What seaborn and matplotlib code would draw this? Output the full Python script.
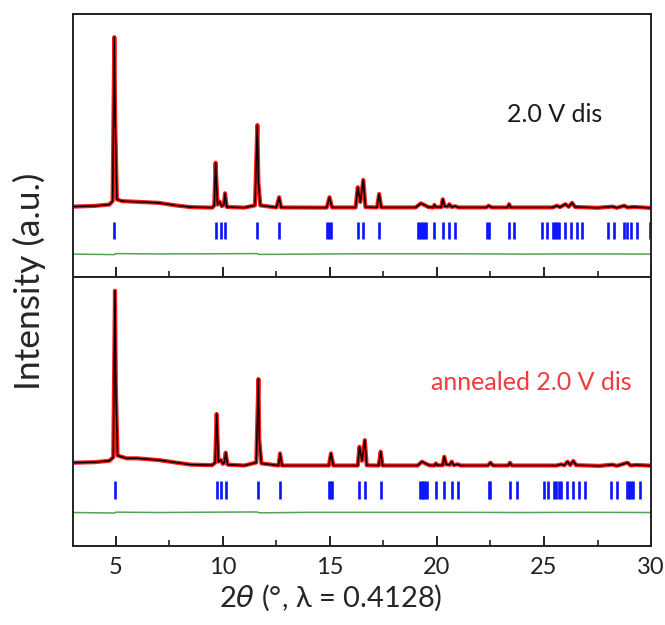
import matplotlib
matplotlib.use("Agg")
import matplotlib.pyplot as plt
import seaborn as sns
from matplotlib.ticker import MultipleLocator

# ---- data (2theta in degrees, intensity normalised to strongest peak = 100) ----
two_theta_top = [3.0, 4.0, 4.7, 4.85, 4.93, 4.97, 5.05, 5.3, 6.0, 7.0, 7.8, 8.5, 9.5,
                 9.6, 9.66, 9.75, 9.85, 9.95, 10.05, 10.1, 10.18, 11.0, 11.5, 11.61, 11.66,
                 11.75, 12.5, 12.63, 12.72, 14.85, 14.98, 15.1, 16.2, 16.3, 16.42, 16.56,
                 16.66, 17.2, 17.3, 17.4, 19.0, 19.25, 19.45, 19.6, 19.82, 19.88, 19.95,
                 20.2, 20.27, 20.36, 20.5, 20.58, 20.68, 20.86, 21.0, 22.3, 22.42, 22.55,
                 23.3, 23.37, 23.45, 25.4, 25.6, 25.75, 26.0, 26.15, 26.31, 26.45, 27.5,
                 28.2, 28.4, 28.75, 28.9, 29.2, 30.0]
intensity_top = [0.8, 1.2, 2.0, 4.0, 100.0, 50.0, 5.0, 4.0, 3.6, 3.0, 1.5, 0.5, 0.2,
                 1.5, 26.5, 2.0, 3.7, 1.0, 2.0, 8.6, 0.6, 0.2, 1.5, 48.5, 15.0,
                 1.5, 0.3, 6.3, 0.3, 0.2, 6.3, 0.3, 0.3, 12.1, 3.5, 16.4,
                 0.5, 0.3, 8.2, 0.3, 0.3, 2.7, 1.5, 0.5, 0.3, 1.8, 0.5,
                 0.5, 5.1, 1.0, 0.8, 2.2, 0.6, 1.0, 0.3, 0.3, 1.3, 0.3,
                 0.3, 2.2, 0.3, 0.3, 1.3, 0.5, 2.2, 0.7, 3.0, 0.6, 0.1,
                 0.8, 0.1, 1.3, 0.3, 0.6, 0.0]

two_theta_bot = [3.0, 4.0, 4.7, 4.88, 4.96, 5.0, 5.08, 5.5, 6.0, 7.0, 7.8, 8.5, 9.5,
                 9.64, 9.71, 9.79, 9.91, 10.0, 10.07, 10.13, 10.22, 11.0, 11.56, 11.66, 11.7,
                 11.8, 12.6, 12.67, 12.76, 14.95, 15.05, 15.16, 16.3, 16.38, 16.5, 16.63,
                 16.72, 17.28, 17.37, 17.46, 19.1, 19.3, 19.5, 19.65, 19.9, 19.95, 20.03,
                 20.27, 20.34, 20.43, 20.6, 20.69, 20.78, 20.97, 21.1, 22.38, 22.5, 22.62,
                 23.33, 23.41, 23.5, 25.6, 25.8, 25.95, 26.1, 26.22, 26.37, 26.5, 27.6,
                 28.2, 28.4, 28.9, 29.05, 29.3, 30.0]
intensity_bot = [1.9, 2.2, 3.0, 5.0, 100.0, 45.0, 6.0, 4.4, 4.4, 3.4, 2.0, 0.8, 0.5,
                 2.0, 29.7, 2.5, 3.4, 1.2, 2.0, 7.6, 0.8, 0.3, 2.0, 49.6, 15.0,
                 1.5, 0.3, 7.2, 0.3, 0.3, 7.2, 0.3, 0.3, 11.0, 3.0, 14.8,
                 0.4, 0.3, 8.2, 0.3, 0.3, 2.5, 1.2, 0.4, 0.3, 1.5, 0.4,
                 0.5, 5.3, 1.0, 0.7, 2.5, 0.5, 1.0, 0.3, 0.3, 1.9, 0.3,
                 0.3, 1.9, 0.3, 0.3, 1.0, 0.4, 2.5, 0.6, 2.9, 0.5, 0.1,
                 0.8, 0.1, 1.9, 0.3, 0.6, 0.2]

# Bragg reflection positions
bragg_top = [4.93, 9.66, 9.9, 10.1, 11.61, 12.63, 14.88, 14.96, 15.04, 16.3, 16.56, 17.3,
             19.13, 19.22, 19.31, 19.4, 19.49, 19.88, 20.27, 20.58, 20.86, 22.33, 22.42,
             23.37, 23.62, 24.93, 25.13, 25.41, 25.51, 25.62, 25.72, 26.0, 26.25, 26.53,
             26.79, 28.0, 28.28, 28.75, 28.9, 29.06, 29.36, 29.95]
bragg_bot = [4.96, 9.71, 9.91, 10.13, 11.66, 12.67, 14.95, 15.03, 15.1, 16.38, 16.63, 17.37,
             19.2, 19.28, 19.36, 19.45, 19.55, 19.95, 20.34, 20.69, 20.97, 22.43, 22.5,
             23.41, 23.72, 25.0, 25.2, 25.47, 25.58, 25.68, 25.8, 26.09, 26.37, 26.65,
             26.92, 28.12, 28.43, 28.86, 28.95, 29.05, 29.14, 29.48]

# difference (obs - calc)
diff_x = [3.0, 4.93, 5.0, 7.0, 9.7, 11.6, 11.7, 14.0, 16.5, 20.3, 24.0, 27.0, 30.0]
diff_top = [0.0, -0.3, 0.3, 0.1, 0.2, 0.3, -0.2, 0.0, 0.2, 0.2, 0.0, 0.1, 0.0]
diff_bot = [0.0, -0.3, 0.2, 0.0, 0.2, 0.3, -0.2, 0.1, 0.1, 0.1, 0.0, 0.1, 0.0]

labels = ["2.0 V dis", "annealed 2.0 V dis"]
label_colors = ["#1a1a1a", "#f03c3c"]

sns.set_theme(style="ticks")
plt.rcParams["font.family"] = ["Lato", "DejaVu Sans"]
plt.rcParams.update({
    "axes.edgecolor": "#222222",
    "axes.linewidth": 1.4,
    "xtick.direction": "in",
    "xtick.bottom": True,
    "xtick.top": False,
    "xtick.major.size": 7,
    "xtick.minor.size": 4,
    "xtick.major.width": 1.4,
    "xtick.minor.width": 1.2,
    "xtick.color": "#222222",
})

fig = plt.figure(figsize=(6.65, 6.25), dpi=100)
ax_top = fig.add_axes([0.1098, 0.5568, 0.8692, 0.4208])
ax_bot = fig.add_axes([0.1098, 0.1264, 0.8692, 0.4304])

panels = [
    (ax_top, two_theta_top, intensity_top, bragg_top, diff_top, (-40.4, 113.5), (-8.4, -18.2), -27.0),
    (ax_bot, two_theta_bot, intensity_bot, bragg_bot, diff_bot, (-45.6, 107.8), (-8.4, -18.8), -26.5),
]

for ax, tt, inten, bragg, diff, ylim, tick_span, diff_off in panels:
    # observed (red) under calculated (black)
    sns.lineplot(x=tt, y=inten, ax=ax, color="#ff1a1a", lw=3.0, sort=False, estimator=None)
    sns.lineplot(x=tt, y=inten, ax=ax, color="black", lw=1.1, sort=False, estimator=None)
    ax.vlines(bragg, tick_span[1], tick_span[0], color="#0a14ff", lw=1.9)
    sns.lineplot(x=diff_x, y=[d + diff_off for d in diff], ax=ax, color="#55a055",
                 lw=1.1, sort=False, estimator=None)

    ax.set_xlim(3, 30)
    ax.set_ylim(*ylim)
    ax.set_yticks([])
    ax.xaxis.set_major_locator(MultipleLocator(5))
    ax.xaxis.set_minor_locator(MultipleLocator(2.5))
    ax.xaxis.set_ticks_position("bottom")
    ax.set_ylabel("")
    for s in ax.spines.values():
        s.set_visible(True)

ax_top.tick_params(axis="x", which="both", labelbottom=False)
ax_bot.tick_params(axis="x", labelsize=17, pad=8)

ax_top.text(0.834, 0.616, labels[0], transform=ax_top.transAxes, fontsize=18,
            color=label_colors[0], ha="center", va="center")
ax_bot.text(0.793, 0.606, labels[1], transform=ax_bot.transAxes, fontsize=18,
            color=label_colors[1], ha="center", va="center")

ax_bot.set_xlabel(r"2$\theta$ (°, λ = 0.4128)", fontsize=21)
ax_bot.xaxis.set_label_coords(0.445, -0.135)
fig.text(0.045, 0.55, "Intensity (a.u.)", rotation=90, fontsize=25.5,
         ha="center", va="center")

fig.savefig("out.png", dpi=100)
